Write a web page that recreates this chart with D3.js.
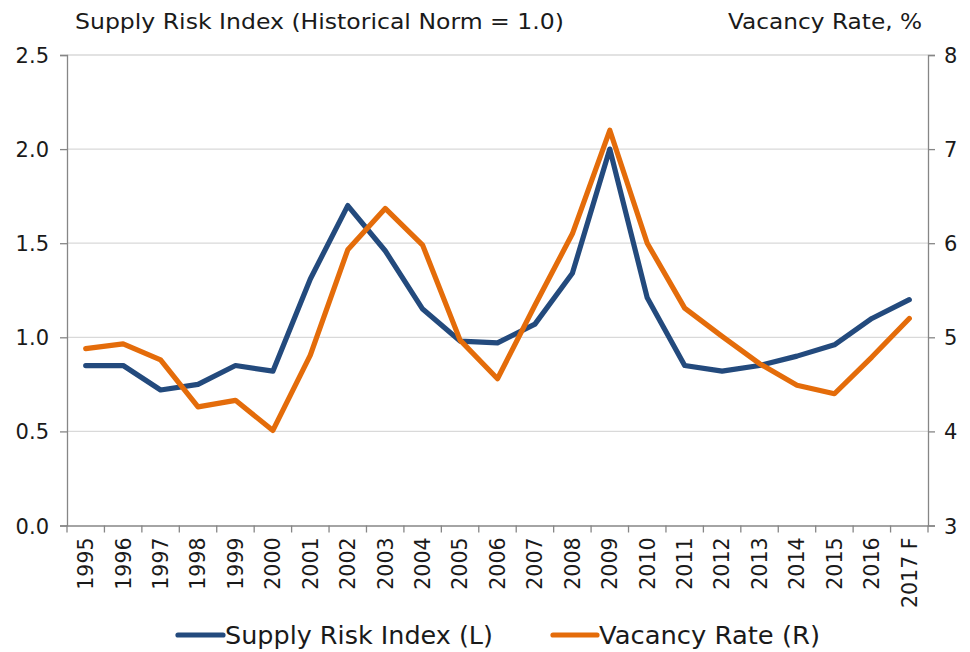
<!DOCTYPE html>
<html><head><meta charset="utf-8">
<script src="https://cdn.jsdelivr.net/npm/d3@7"></script>
<style>body{margin:0;background:#fff}svg{display:block}text{font-family:"DejaVu Sans",Verdana,sans-serif;fill:#1a1a1a}</style>
</head><body>
<script>
const categories = ["1995","1996","1997","1998","1999","2000","2001","2002","2003","2004","2005","2006","2007","2008","2009","2010","2011","2012","2013","2014","2015","2016","2017 F"];
const supplyRisk = [0.85,0.85,0.72,0.75,0.85,0.82,1.31,1.70,1.46,1.15,0.98,0.97,1.07,1.34,2.00,1.21,0.85,0.82,0.85,0.90,0.96,1.10,1.20];
const vacancyRate = [4.88,4.93,4.76,4.26,4.33,4.01,4.81,5.93,6.37,5.98,4.97,4.56,5.34,6.10,7.20,6.00,5.31,5.01,4.72,4.49,4.40,4.79,5.20];
const leftTicks = [0,0.5,1.0,1.5,2.0,2.5];
const rightTicks = [3,4,5,6,7,8];

const W=970,H=652, L=67, R=928, T=55, B=525.5;
const svg=d3.select("body").append("svg").attr("width",W).attr("height",H);
const x=d3.scaleBand().domain(categories).range([L,R]).padding(0);
const yL=d3.scaleLinear().domain([0,2.5]).range([B,T]);
const yR=d3.scaleLinear().domain([3,8]).range([B,T]);

// gridlines
svg.append("g").selectAll("line").data(leftTicks.slice(1)).join("line")
  .attr("x1",L).attr("x2",R).attr("y1",d=>yL(d)).attr("y2",d=>yL(d))
  .attr("stroke","#d9d9d9").attr("stroke-width",1.3);

// left axis
const gl=svg.append("g").attr("transform",`translate(${L},0)`)
  .call(d3.axisLeft(yL).tickValues(leftTicks).tickFormat(d3.format(".1f")).tickSize(7).tickPadding(11));
// right axis
const gr=svg.append("g").attr("transform",`translate(${R},0)`)
  .call(d3.axisRight(yR).tickValues(rightTicks).tickFormat(d3.format("d")).tickSize(7).tickPadding(9));
// bottom axis
const gb=svg.append("g").attr("transform",`translate(0,${B})`)
  .call(d3.axisBottom(x).tickSize(0).tickPadding(0));
[gl,gr,gb].forEach(g=>{
  g.select(".domain").attr("stroke","#868686").attr("stroke-width",1.3);
  g.selectAll(".tick line").attr("stroke","#868686").attr("stroke-width",1.3);
});
gl.selectAll("text").attr("font-size",21).attr("fill","#1a1a1a").attr("font-family","DejaVu Sans").attr("dy","0.36em");
gr.selectAll("text").attr("font-size",21).attr("fill","#1a1a1a").attr("font-family","DejaVu Sans").attr("dy","0.36em");
gb.selectAll(".tick text").attr("font-size",20.5).attr("fill","#1a1a1a").attr("font-family","DejaVu Sans")
  .attr("text-anchor","end").attr("transform","rotate(-90)").attr("x",-12).attr("y",0).attr("dy","0.36em");
// bottom tick marks at category boundaries
const bounds=categories.map(c=>x(c)).concat([R]);
svg.append("g").selectAll("line").data(bounds).join("line")
  .attr("x1",d=>d).attr("x2",d=>d).attr("y1",B).attr("y2",B+7)
  .attr("stroke","#868686").attr("stroke-width",1.3);

// lines
const cx=c=>x(c)+x.bandwidth()/2;
const lineL=d3.line().x((d,i)=>cx(categories[i])).y(d=>yL(d));
const lineR=d3.line().x((d,i)=>cx(categories[i])).y(d=>yR(d));
svg.append("path").datum(supplyRisk).attr("d",lineL).attr("fill","none")
  .attr("stroke","#234a7d").attr("stroke-width",5.2).attr("stroke-linejoin","round").attr("stroke-linecap","round");
svg.append("path").datum(vacancyRate).attr("d",lineR).attr("fill","none")
  .attr("stroke","#e46c0a").attr("stroke-width",5.2).attr("stroke-linejoin","round").attr("stroke-linecap","round");

// titles
svg.append("text").attr("x",75).attr("y",29).attr("font-size",22)
  .attr("textLength",489).attr("lengthAdjust","spacingAndGlyphs")
  .text("Supply Risk Index (Historical Norm = 1.0)");
svg.append("text").attr("x",728).attr("y",29).attr("font-size",22)
  .attr("textLength",194).attr("lengthAdjust","spacingAndGlyphs")
  .text("Vacancy Rate, %");

// legend
const legend=[{name:"Supply Risk Index (L)",color:"#234a7d",x1:178,x2:223,tx:225,tl:268},
              {name:"Vacancy Rate (R)",color:"#e46c0a",x1:553,x2:597,tx:599,tl:221}];
const lg=svg.append("g");
legend.forEach(d=>{
  lg.append("line").attr("x1",d.x1).attr("x2",d.x2).attr("y1",635).attr("y2",635)
    .attr("stroke",d.color).attr("stroke-width",5.2).attr("stroke-linecap","round");
  lg.append("text").attr("x",d.tx).attr("y",644).attr("font-size",24)
    .attr("textLength",d.tl).attr("lengthAdjust","spacingAndGlyphs").text(d.name);
});
</script>
</body></html>
